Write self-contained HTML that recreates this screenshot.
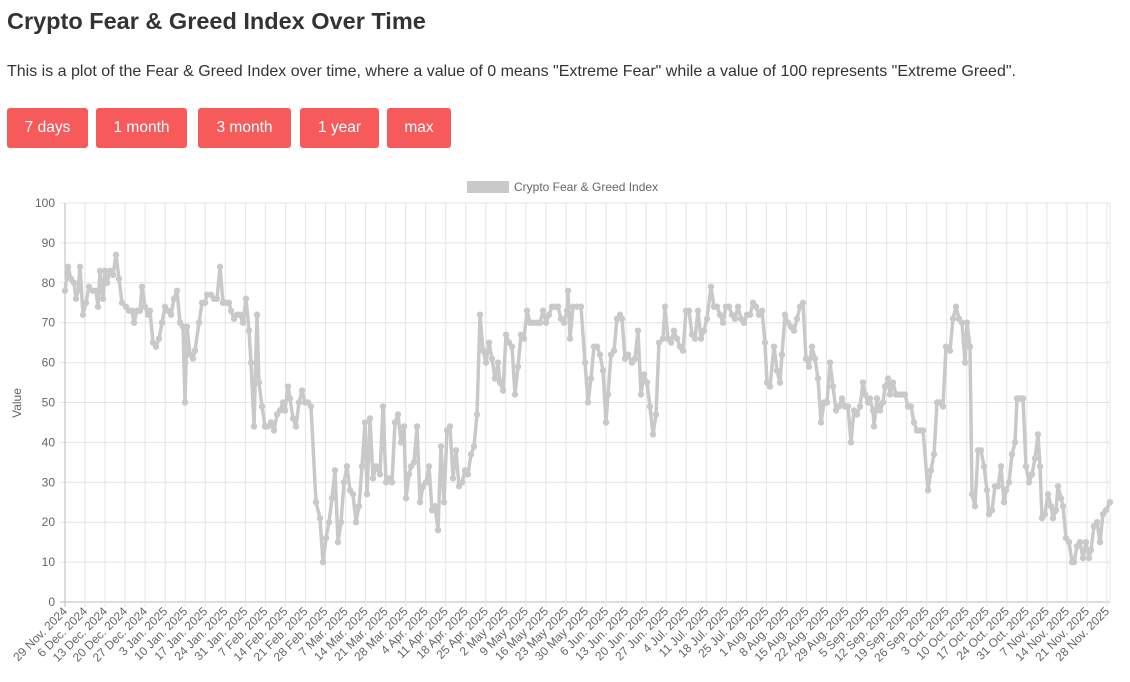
<!DOCTYPE html>
<html><head><meta charset="utf-8"><style>
body{margin:0;width:1130px;height:682px;overflow:hidden;background:#fff;font-family:"Liberation Sans",sans-serif;color:#333}
h1{position:absolute;left:7px;top:8px;margin:0;font-size:23.5px;font-weight:bold;color:#333}
p{position:absolute;left:7px;top:63px;margin:0;font-size:16px;color:#333}
.b{position:absolute;top:108px;height:40px;line-height:40px;background:#f75a5a;color:#fff;font-size:15.5px;text-align:center;border-radius:3px}
svg{position:absolute;left:0;top:0}
</style></head><body>
<h1>Crypto Fear &amp; Greed Index Over Time</h1>
<p>This is a plot of the Fear &amp; Greed Index over time, where a value of 0 means "Extreme Fear" while a value of 100 represents "Extreme Greed".</p>
<div class="b" style="left:7px;width:81px">7 days</div>
<div class="b" style="left:96px;width:91px">1 month</div>
<div class="b" style="left:198px;width:93px">3 month</div>
<div class="b" style="left:300px;width:79px">1 year</div>
<div class="b" style="left:387px;width:64px">max</div>
<svg id="s" width="1130" height="682" xmlns="http://www.w3.org/2000/svg" font-family="Liberation Sans, sans-serif"></svg>
<script>
var d=[65,78,68,84,71,81,74,80,76,76,78,78,80,84,83,72,86,75,89,79,93,78,96,78,98,74,100,83,103,76,105,83,107,80,110,83,113,82,116,87,119,81,122,75,126,74,129,73,132,73,134,70,137,73,140,73,142,79,145,74,148,72,150,73,153,65,156,64,159,66,162,70,165,74,168,73,171,72,174,76,177,78,180,70,183,69,185,50,187,69,190,62,193,61,195,63,199,70,202,75,205,75,207,77,211,77,214,76,217,76,220,84,223,75,226,75,229,75,231,73,234,71,237,72,240,72,243,70,246,76,249,68,251,60,254,44,257,72,259,55,262,49,265,44,268,44,271,45,274,43,277,47,280,48,283,50,285,48,288,54,290,51,293,46,296,44,299,50,302,53,305,50,308,50,311,49,316,25,320,21,323,10,326,16,329,20,332,26,335,33,338,15,341,20,344,30,347,34,350,28,353,27,356,20,359,24,362,34,365,45,367,27,370,46,373,31,376,34,380,32,383,49,386,30,389,31,392,30,395,45,398,47,401,40,404,44,406,26,409,32,411,34,414,35,417,44,420,25,423,29,426,30,429,34,432,23,435,24,438,18,441,39,444,25,447,43,450,44,453,31,456,38,459,29,462,30,465,33,468,32,471,37,474,39,477,47,480,72,483,63,486,60,489,65,492,61,495,56,498,60,500,55,503,53,506,67,509,65,512,64,515,52,518,59,521,67,524,66,527,73,530,70,533,70,537,70,540,70,543,73,546,70,549,72,552,74,555,74,558,74,561,71,564,70,567,73,568,78,570,66,573,74,577,74,581,74,585,60,588,50,591,56,594,64,597,64,600,62,603,58,606,45,608,52,611,62,614,63,617,71,620,72,622,71,625,61,628,62,632,60,635,61,638,68,641,52,644,57,647,55,650,49,653,42,656,47,659,65,663,66,665,74,668,66,671,65,674,68,677,66,680,64,683,63,686,73,689,73,692,67,695,66,698,73,701,66,704,68,707,71,711,79,714,74,717,74,720,72,723,70,726,74,729,74,732,72,735,71,738,74,741,71,744,70,747,72,750,72,753,75,756,74,759,72,762,73,765,65,767,55,770,54,774,64,777,58,780,55,782,62,785,72,788,70,791,69,794,68,797,71,800,74,803,75,806,61,809,59,812,64,815,61,818,56,821,45,824,50,827,50,830,60,833,54,836,48,839,49,842,51,845,49,848,49,851,40,854,48,857,47,860,49,863,55,865,52,868,50,870,51,873,48,874,44,877,51,880,48,883,50,885,54,888,56,890,52,893,55,896,52,899,52,902,52,905,52,908,49,911,49,914,45,917,43,920,43,923,43,928,28,931,33,934,37,937,50,940,50,943,49,946,64,950,63,953,71,956,74,959,71,962,70,965,60,967,70,970,64,972,27,975,24,978,38,981,38,984,34,987,28,989,22,992,23,995,29,998,29,1001,34,1004,25,1006,28,1009,30,1012,37,1015,40,1017,51,1020,51,1023,51,1026,34,1029,30,1032,32,1035,36,1038,42,1040,34,1042,21,1045,22,1048,27,1051,24,1053,21,1056,23,1058,29,1061,26,1063,24,1066,16,1069,15,1072,10,1074,10,1077,14,1080,15,1083,11,1086,15,1089,11,1091,13,1094,19,1097,20,1100,15,1103,22,1106,23,1110,25];
var L=65,R=1110,T=203,B=602,h='';
function Y(v){return B-(B-T)*v/100}
for(var v=0;v<=100;v+=10){var y=Y(v);h+='<line x1="60" x2="'+R+'" y1="'+y+'" y2="'+y+'" stroke="'+(v==0?'#bbb':'#e4e4e4')+'"/>';h+='<text x="55" y="'+(y+4)+'" font-size="12" fill="#666" text-anchor="end">'+v+'</text>';}
var dt=new Date(2024,10,29);
for(var i=0;i<=52;i++){var x=L+i*(R-3-L)/52;h+='<line x1="'+x+'" x2="'+x+'" y1="'+T+'" y2="'+(B+5)+'" stroke="'+(i==0?'#bbb':'#e4e4e4')+'"/>';
var mn=["Jan.","Feb.","Mar.","Apr.","May","Jun.","Jul.","Aug.","Sep.","Oct.","Nov.","Dec."][dt.getMonth()];
h+='<text transform="translate('+(x+3)+','+(B+10)+') rotate(-45)" font-size="12" fill="#666" text-anchor="end">'+dt.getDate()+' '+mn+' '+dt.getFullYear()+'</text>';dt.setDate(dt.getDate()+7);}
h+='<line x1="'+R+'" x2="'+R+'" y1="'+T+'" y2="'+B+'" stroke="#e4e4e4"/>';
var pts='',c='';for(var k=0;k<d.length;k+=2){var x=d[k],y=Y(d[k+1]);pts+=x+','+y+' ';c+='<circle cx="'+x+'" cy="'+y+'" r="3.2" fill="#c9c9c9"/>';}
h+='<polyline points="'+pts+'" fill="none" stroke="#c9c9c9" stroke-width="3.5" stroke-linejoin="round"/>'+c;
h+='<rect x="467" y="181" width="42" height="12" fill="#c9c9c9"/><text x="514" y="191" font-size="12" fill="#666">Crypto Fear &amp; Greed Index</text>';
h+='<text transform="translate(21,403) rotate(-90)" font-size="12" fill="#666" text-anchor="middle">Value</text>';
document.getElementById('s').innerHTML=h;
</script>
</body></html>
